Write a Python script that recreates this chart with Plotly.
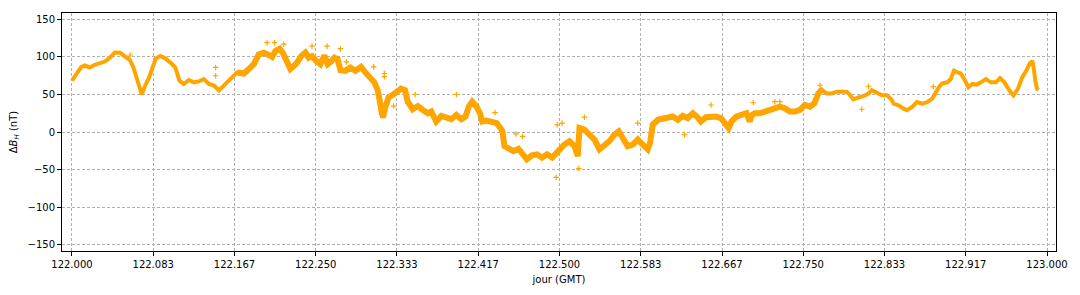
import plotly.graph_objects as go

# Day-of-year (GMT) and magnetic H-component variation (nT)
jour = [122.0000, 122.0045, 122.0096, 122.0131, 122.0183, 122.0234, 122.0286, 122.0338, 122.0389, 122.0441,
        122.0493, 122.0544, 122.0596, 122.0630, 122.0665, 122.0699, 122.0716, 122.0751, 122.0792, 122.0827,
        122.0861, 122.0906, 122.0957, 122.1009, 122.1061, 122.1102, 122.1147, 122.1199, 122.1250, 122.1302,
        122.1353, 122.1405, 122.1457, 122.1508, 122.1560, 122.1612,
        122.1694, 122.1762, 122.1814, 122.1865, 122.1916, 122.1967, 122.2018, 122.2053, 122.2087, 122.2131,
        122.2165, 122.2199, 122.2240, 122.2275, 122.2309, 122.2350, 122.2394, 122.2428, 122.2462, 122.2507,
        122.2548, 122.2589, 122.2623, 122.2657, 122.2691, 122.2725, 122.2753, 122.2804, 122.2855, 122.2907,
        122.2964, 122.3009, 122.3060, 122.3101, 122.3135, 122.3155, 122.3169, 122.3190, 122.3214, 122.3248,
        122.3282, 122.3316, 122.3350,
        122.3375, 122.3416, 122.3444, 122.3495, 122.3547, 122.3599, 122.3650, 122.3685, 122.3736, 122.3788,
        122.3839, 122.3891, 122.3943, 122.3994, 122.4036, 122.4070, 122.4105, 122.4150, 122.4184, 122.4208,
        122.4253, 122.4304, 122.4356, 122.4401, 122.4415, 122.4435, 122.4477, 122.4528, 122.4580, 122.4632,
        122.4666, 122.4718, 122.4770, 122.4821, 122.4873, 122.4925, 122.4976, 122.5028,
        122.5051, 122.5102, 122.5154, 122.5188, 122.5205, 122.5256, 122.5307, 122.5359, 122.5410, 122.5461,
        122.5512, 122.5564, 122.5608, 122.5649, 122.5700, 122.5751, 122.5803, 122.5854, 122.5905, 122.5929,
        122.5956, 122.6008, 122.6059, 122.6110, 122.6161, 122.6213, 122.6264, 122.6315, 122.6367, 122.6408,
        122.6451, 122.6503, 122.6554, 122.6606, 122.6657, 122.6708,
        122.6735, 122.6763, 122.6814, 122.6865, 122.6917, 122.6951, 122.6970, 122.7003, 122.7054, 122.7106,
        122.7157, 122.7208, 122.7260, 122.7311, 122.7363, 122.7414, 122.7466, 122.7517, 122.7569, 122.7613,
        122.7654, 122.7689, 122.7740, 122.7792, 122.7843, 122.7894, 122.7946, 122.7980, 122.8015, 122.8066,
        122.8117, 122.8169, 122.8203, 122.8255, 122.8306, 122.8358, 122.8409,
        122.8426, 122.8478, 122.8529, 122.8564, 122.8616, 122.8667, 122.8719, 122.8771, 122.8822, 122.8857,
        122.8891, 122.8926, 122.8977, 122.9012, 122.9046, 122.9081, 122.9115, 122.9150, 122.9194, 122.9236,
        122.9277, 122.9322, 122.9373, 122.9425, 122.9477, 122.9518, 122.9563, 122.9615, 122.9656, 122.9701,
        122.9745, 122.9787, 122.9821, 122.9849, 122.9863, 122.9880, 122.9897, 122.9914]

delta_bh = [68.4, 78, 86.8, 88.6, 86, 89.5, 91.2, 93.9, 99, 106,
            105.7, 101.3, 95.6, 86, 70.6, 53, 50, 61.8, 72.8, 86,
            98.2, 101.3, 98.2, 92.5, 86, 68.4, 64, 69.3, 66.2, 67.5,
            70.6, 64, 61.8, 55.3, 61.8, 68.4,
            79.4, 78, 83.8, 90.4, 103.5, 105.7, 102.6, 100, 107.9, 111,
            105, 97, 84, 88, 92.5, 101, 106, 99, 101, 94.7,
            90.4, 102, 90.4, 93.9, 99, 97, 82.5, 81.6, 86, 81.6,
            86.8, 79.4, 72.8, 66.2, 56.1, 40, 24.6, 19.3, 33.3, 46.5,
            48.7, 53, 55,
            57.9, 55.7, 40.4, 30.3, 34.6, 29.4, 25, 27.2, 14, 21.5,
            18.4, 17.1, 22.8, 17.1, 20.6, 33.8, 40.4, 33.8, 25, 14,
            15.3, 12.7, 11.8, 3.9, 0.9, -18.9, -21, -25.4, -22.4, -29.8,
            -36.4, -31.1, -29.8, -34.2, -29.8, -34.2, -27.6, -18.9,
            -16.7, -12.3, -18.9, -32, 5.3, 3.1, -3.5, -10.1, -23.2, -18.9,
            -12.3, -3.5, 0.9, -7.9, -18.9, -16.7, -10.1, -16.7, -23.2, -14.5,
            9.6, 16.2, 17.1, 19.7, 20.6, 16.2, 21.5, 18.4, 25, 20.6,
            14, 19.7, 20.6, 20.6, 18.4, 9.6,
            5.3, 14, 20.6, 22.8, 25, 14, 22, 25, 25, 27.2,
            29.4, 31.6, 33.8, 31.6, 27.2, 27.2, 29.4, 36, 33.8, 38.2,
            51.3, 56.6, 51.3, 51.3, 53.5, 53.5, 53.5, 49.1, 43.4, 46,
            47.8, 51.3, 55.7, 52.2, 49.1, 49.1, 42.5,
            37.7, 35.5, 31.1, 28.9, 33.3, 39.9, 37.7, 39.9, 44.3, 53.1,
            59.6, 64.9, 66.2, 70.6, 81.6, 79.4, 78.1, 70.6, 59.6, 64,
            63.2, 66.2, 70.6, 66.2, 66.2, 71.9, 66.2, 55.3, 48.7, 57.5,
            72.8, 81.6, 91.2, 94.7, 86, 68.4, 57.5, 56.1]

# Isolated scattered samples
jour_outliers = [122.0596, 122.1474, 122.1474, 122.2001, 122.2080, 122.2172, 122.2462, 122.2616, 122.2753,
                 122.2815, 122.3094, 122.3204, 122.3204, 122.3299, 122.3520, 122.3943, 122.4339, 122.4553,
                 122.4622, 122.4976, 122.4966, 122.5027, 122.5256, 122.5198, 122.5803, 122.6281, 122.6554,
                 122.6986, 122.7208, 122.7260, 122.7672, 122.8100, 122.8169, 122.8833]
bh_outliers = [102.6, 86, 75, 119, 119, 117, 114.5, 114.5, 111,
               93.5, 86.8, 78, 73.7, 34.6, 50, 50, 25.9, -2.6,
               -5.7, 9.6, -60.5, 11.8, 19.7, -48.7, 11.8, -3.5, 36,
               39, 40.4, 40.4, 62.3, 30.3, 61, 60.5]

x_tick_vals = [122.0, 122 + 1/12, 122 + 2/12, 122.25, 122 + 4/12, 122 + 5/12, 122.5,
               122 + 7/12, 122 + 8/12, 122.75, 122 + 10/12, 122 + 11/12, 123.0]
x_tick_text = ["122.000", "122.083", "122.167", "122.250", "122.333", "122.417", "122.500",
               "122.583", "122.667", "122.750", "122.833", "122.917", "123.000"]
y_tick_vals = [-150, -100, -50, 0, 50, 100, 150]

ORANGE = "#FFA500"
noisy_x = [t for t in jour if 122.165 <= t <= 122.77]
noisy_y = [v for t, v in zip(jour, delta_bh) if 122.165 <= t <= 122.77]

fig = go.Figure()
fig.add_trace(go.Scatter(x=jour, y=delta_bh, mode="lines",
                         line=dict(color=ORANGE, width=4), hoverinfo="skip", showlegend=False))
fig.add_trace(go.Scatter(x=noisy_x, y=noisy_y, mode="lines",
                         line=dict(color=ORANGE, width=6), hoverinfo="skip", showlegend=False))
fig.add_trace(go.Scatter(x=jour_outliers, y=bh_outliers, mode="markers",
                         marker=dict(symbol="cross-thin", size=4, color=ORANGE,
                                     line=dict(color=ORANGE, width=1.2)),
                         hoverinfo="skip", showlegend=False))

axis_common = dict(showline=True, linecolor="black", linewidth=1, mirror=True,
                   ticks="outside", ticklen=4, tickwidth=0.8, tickcolor="black",
                   showgrid=True, gridcolor="#b0b0b0", gridwidth=0.8, griddash="3px,2px",
                   zeroline=False, tickfont=dict(family="DejaVu Sans", size=10, color="black"))

fig.update_layout(
    width=1080, height=295,
    margin=dict(l=62, r=23, t=12, b=42),
    paper_bgcolor="white", plot_bgcolor="white",
    font=dict(family="DejaVu Sans", size=10, color="black"),
    xaxis=dict(range=[121.9898, 123.0092], tickvals=x_tick_vals, ticktext=x_tick_text,
               title=dict(text="jour (GMT)", standoff=6, font=dict(size=10)), **axis_common),
    yaxis=dict(range=[-158.6, 158.6], tickvals=y_tick_vals,
               title=dict(text="Δ<i>B</i><sub><i>H</i></sub> (nT)", standoff=8, font=dict(size=10)),
               **axis_common),
)

fig.write_html("out.html")
